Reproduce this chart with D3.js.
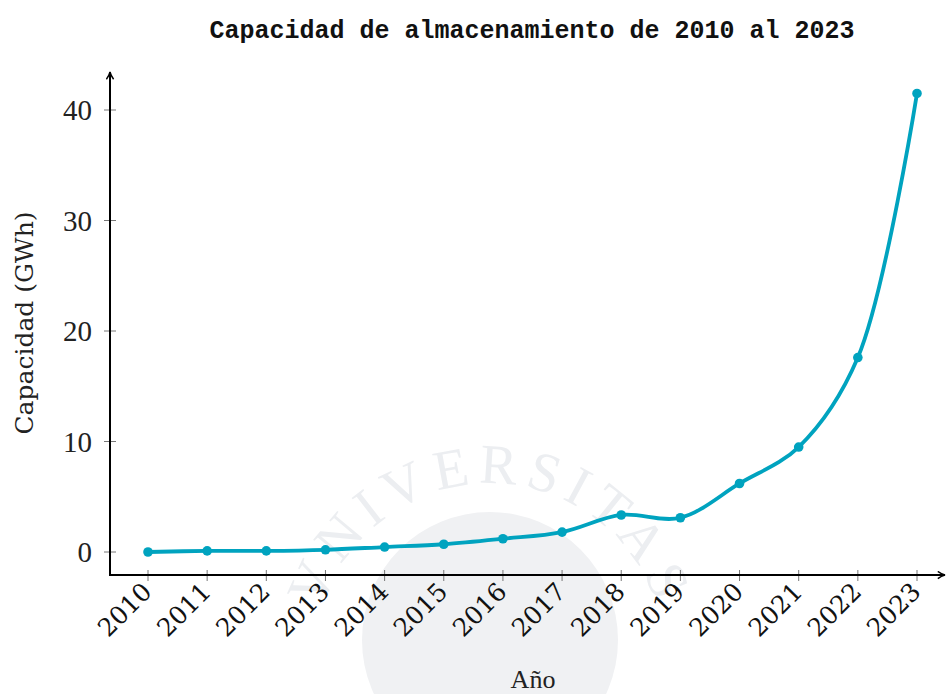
<!DOCTYPE html>
<html>
<head>
<meta charset="utf-8">
<script src="https://cdn.jsdelivr.net/npm/d3@7"></script>
<style>
	body { margin: 0; background: #fff; }
	svg { display: block; }
</style>
</head>
<body>
<svg id="chart" width="947" height="694"></svg>
<script>
// capacidad de almacenamiento por año (GWh)
const years = [2010, 2011, 2012, 2013, 2014, 2015, 2016, 2017, 2018, 2019, 2020, 2021, 2022, 2023];
const capacity = [0, 0.1, 0.1, 0.2, 0.45, 0.7, 1.2, 1.8, 3.35, 3.1, 6.2, 9.5, 17.6, 41.5];
const yTicks = [0, 10, 20, 30, 40];
const title = "Capacidad de almacenamiento de 2010 al 2023";
const xLabel = "Año";
const yLabel = "Capacidad (GWh)";

const lineColor = "#00a3bf";
const svg = d3.select("#chart");

// marca de agua (sello)
let wm = svg.append("g").attr("class", "watermark");
wm.append("circle")
	.attr("cx", 490).attr("cy", 640).attr("r", 128)
	.attr("fill", "#f0f1f3");
wm.append("path")
	.attr("id", "sealArc")
	.attr("d", "M 320 700 A 175 175 0 1 1 660 700")
	.attr("fill", "none");
wm.append("text")
	.attr("font-family", "Liberation Serif")
	.attr("font-size", 56)
	.attr("fill", "#eceef1")
	.attr("letter-spacing", 8)
	.append("textPath")
	.attr("href", "#sealArc")
	.attr("startOffset", "50%")
	.attr("text-anchor", "middle")
	.text("VNIVERSITAS");

// scales
let x = d3.scaleLinear().domain([2010, 2023]).range([148, 917]);
let y = d3.scaleLinear().domain([0, 40]).range([552, 110]);

const axisX = 110, axisY = 575;

// arrow marker
svg.append("defs").append("marker")
	.attr("id", "arrow")
	.attr("viewBox", "0 0 10 10")
	.attr("refX", 9).attr("refY", 5)
	.attr("markerWidth", 9).attr("markerHeight", 9)
	.attr("markerUnits", "userSpaceOnUse")
	.attr("orient", "auto")
	.append("path")
	.attr("d", "M 1 1 Q 5 4 9 5 Q 5 6 1 9")
	.attr("fill", "none")
	.attr("stroke", "#000")
	.attr("stroke-width", 1.6);

// x axis ticks
let xAxis = svg.append("g").attr("transform", "translate(0," + axisY + ")");
xAxis.selectAll("line.tick")
	.data(years)
	.enter()
	.append("line")
	.attr("class", "tick")
	.attr("x1", d => x(d)).attr("x2", d => x(d))
	.attr("y1", -5).attr("y2", 6)
	.attr("stroke", "#777").attr("stroke-width", 1);
xAxis.selectAll("text")
	.data(years)
	.enter()
	.append("text")
	.attr("transform", d => "translate(" + (x(d) - 8) + ",5) rotate(-45)")
	.attr("text-anchor", "end")
	.attr("dy", "0.75em")
	.attr("font-family", "DejaVu Serif")
	.attr("font-size", 25)
	.attr("fill", "#111")
	.text(d => d);

// y axis ticks
let yAxis = svg.append("g").attr("transform", "translate(" + axisX + ",0)");
yAxis.selectAll("line")
	.data(yTicks)
	.enter()
	.append("line")
	.attr("x1", -6).attr("x2", 6)
	.attr("y1", d => y(d)).attr("y2", d => y(d))
	.attr("stroke", "#777").attr("stroke-width", 1);
yAxis.selectAll("text")
	.data(yTicks)
	.enter()
	.append("text")
	.attr("x", -18)
	.attr("y", d => y(d))
	.attr("dy", "0.35em")
	.attr("text-anchor", "end")
	.attr("font-family", "Liberation Serif")
	.attr("font-size", 29)
	.attr("fill", "#222")
	.text(d => d);

// axis lines with arrows
svg.append("line")
	.attr("x1", axisX - 1).attr("y1", axisY)
	.attr("x2", 945).attr("y2", axisY)
	.attr("stroke", "#000").attr("stroke-width", 2)
	.attr("marker-end", "url(#arrow)");
svg.append("line")
	.attr("x1", axisX).attr("y1", axisY + 1)
	.attr("x2", axisX).attr("y2", 72)
	.attr("stroke", "#000").attr("stroke-width", 2)
	.attr("marker-end", "url(#arrow)");

// data line
let data = years.map((yr, i) => ({ year: yr, value: capacity[i] }));
let line = d3.line()
	.x(d => x(d.year))
	.y(d => y(d.value))
	.curve(d3.curveCatmullRom.alpha(0.5));

svg.append("path")
	.datum(data)
	.attr("d", line)
	.attr("fill", "none")
	.attr("stroke", lineColor)
	.attr("stroke-width", 3.8)
	.attr("stroke-linejoin", "round");

svg.selectAll("circle.pt")
	.data(data)
	.enter()
	.append("circle")
	.attr("class", "pt")
	.attr("cx", d => x(d.year))
	.attr("cy", d => y(d.value))
	.attr("r", 4.8)
	.attr("fill", lineColor);

// labels
svg.append("text")
	.attr("x", 532).attr("y", 38)
	.attr("text-anchor", "middle")
	.attr("font-family", "Liberation Mono")
	.attr("font-weight", "bold")
	.attr("font-size", 25)
	.attr("fill", "#111")
	.text(title);

svg.append("text")
	.attr("x", 533).attr("y", 688)
	.attr("text-anchor", "middle")
	.attr("font-family", "Liberation Serif")
	.attr("font-size", 26)
	.attr("fill", "#222")
	.text(xLabel);

svg.append("text")
	.attr("transform", "translate(33,323) rotate(-90)")
	.attr("text-anchor", "middle")
	.attr("font-family", "DejaVu Serif")
	.attr("font-size", 25)
	.attr("fill", "#222")
	.text(yLabel);
</script>
</body>
</html>
